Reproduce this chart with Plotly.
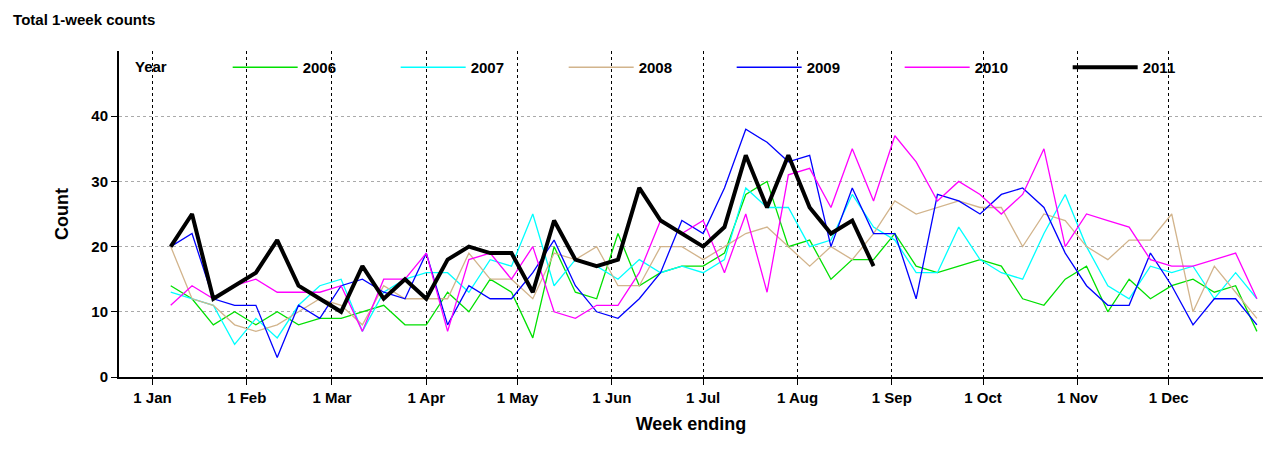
import pandas as pd
import plotly.graph_objects as go

# weekly counts, week ending dates (plotted on a common 2011 calendar)
YEARS = ["2006", "2007", "2008", "2009", "2010", "2011"]
COLORS = ["#00e000", "#00ffff", "#d2b48c", "#0000ff", "#ff00ff", "#000000"]

c2006 = [14, 12, 8, 10, 8, 10, 8, 9, 9, 10, 11, 8, 8, 13, 10, 15, 13, 6, 20, 13,
         12, 22, 14, 16, 17, 17, 19, 28, 30, 20, 21, 15, 18, 18, 22, 17, 16, 17, 18, 17,
         12, 11, 15, 17, 10, 15, 12, 14, 15, 13, 14, 7, 20]
c2007 = [13, 12, 11, 5, 9, 6, 11, 14, 15, 7, 13, 15, 16, 16, 13, 18, 17, 25, 14, 18,
         17, 15, 18, 16, 17, 16, 18, 29, 26, 26, 20, 21, 28, 23, 21, 16, 16, 23, 18, 16,
         15, 22, 28, 20, 14, 12, 17, 16, 17, 12, 16, 12, 6, 13]
c2008 = [20, 12, 11, 8, 7, 8, 10, 12, 11, 8, 14, 12, 12, 12, 19, 15, 15, 12, 19, 18,
         20, 14, 14, 20, 20, 18, 20, 22, 23, 20, 17, 20, 18, 22, 27, 25, 26, 27, 26, 26,
         20, 25, 24, 20, 18, 21, 21, 25, 10, 17, 13, 9, 8, 16]
c2009 = [20, 22, 12, 11, 11, 3, 11, 9, 14, 15, 13, 12, 19, 8, 14, 12, 12, 16, 21, 14,
         10, 9, 12, 16, 24, 22, 29, 38, 36, 33, 34, 20, 29, 22, 22, 12, 28, 27, 25, 28,
         29, 26, 19, 14, 11, 11, 19, 14, 8, 12, 12, 8, 12]
c2010 = [11, 14, 12, 14, 15, 13, 13, 13, 14, 7, 15, 15, 19, 7, 18, 19, 15, 20, 10, 9,
         11, 11, 16, 24, 22, 24, 16, 25, 13, 31, 32, 26, 35, 27, 37, 33, 27, 30, 28, 25,
         28, 35, 20, 25, 24, 23, 18, 17, 17, 18, 19, 12, 17, 14]
c2011 = [20, 25, 12, 14, 16, 21, 14, 12, 10, 17, 12, 15, 12, 18, 20, 19, 19, 13, 24, 18,
         17, 18, 29, 24, 22, 20, 23, 34, 26, 34, 26, 22, 24, 17]
SERIES = [c2006, c2007, c2008, c2009, c2010, c2011]

FIRST_WEEK = "2011-01-07"
MONTH_TICKS = pd.date_range("2011-01-01", "2011-12-01", freq="MS")
MONTH_LABELS = [f"1 {d.strftime('%b')}" for d in MONTH_TICKS]

FONT = "Liberation Sans"

fig = go.Figure()
for year, vals, col in zip(YEARS, SERIES, COLORS):
    vals = vals[:52]
    dates = pd.date_range(FIRST_WEEK, periods=len(vals), freq="7D")
    fig.add_trace(go.Scatter(
        x=dates, y=vals, mode="lines", name=f"<b>{year}</b>",
        line=dict(color=col, width=4 if year == "2011" else 1.3),
    ))

fig.update_layout(
    width=1275, height=452,
    paper_bgcolor="white", plot_bgcolor="white",
    margin=dict(l=111, r=20, t=43, b=83),
    font=dict(family=FONT, size=15, color="black"),
    title=dict(text="<b>Total 1-week counts</b>", x=0.004, xanchor="left",
               y=0.985, yanchor="top", font=dict(size=15)),
    showlegend=True,
    legend=dict(orientation="h", x=0.095, y=1.0, xanchor="left", yanchor="top",
                bgcolor="rgba(0,0,0,0)", entrywidth=88, entrywidthmode="pixels",
                font=dict(size=15), itemwidth=65),
    annotations=[dict(text="<b>Year</b>", xref="paper", yref="paper",
                      x=0.012, y=0.985, xanchor="left", yanchor="top",
                      showarrow=False, font=dict(size=15))],
)
fig.update_xaxes(
    type="date", range=["2010-12-21", "2012-01-01"],
    tickvals=MONTH_TICKS, ticktext=[f"<b>{t}</b>" for t in MONTH_LABELS],
    ticks="outside", ticklen=6, tickcolor="black",
    showline=True, linecolor="black", linewidth=2,
    showgrid=True, gridcolor="black", griddash="dot", gridwidth=1.2,
    title=dict(text="<b>Week ending</b>", standoff=12),
    zeroline=False,
)
fig.update_yaxes(
    range=[0, 50], tickvals=[0, 10, 20, 30, 40],
    ticktext=["<b>0</b>", "<b>10</b>", "<b>20</b>", "<b>30</b>", "<b>40</b>"],
    ticks="outside", ticklen=6, tickcolor="black",
    showline=True, linecolor="black", linewidth=2, mirror=False,
    showgrid=True, gridcolor="#aaaaaa", griddash="dot", gridwidth=1.2,
    title=dict(text="<b>Count</b>", standoff=18),
    zeroline=False,
)

fig.write_html("out.html")
